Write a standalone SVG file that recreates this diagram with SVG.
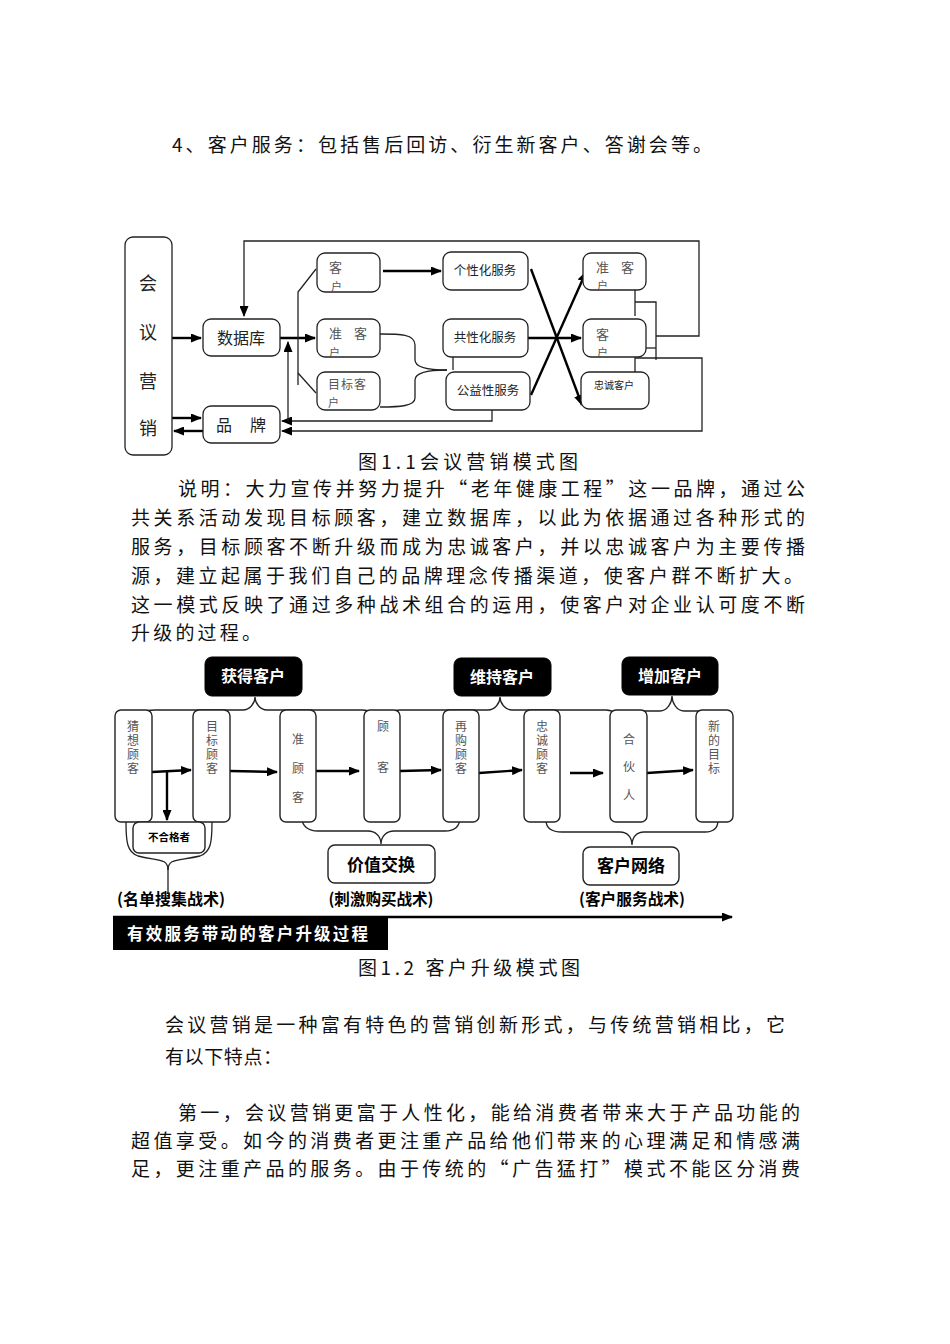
<svg xmlns="http://www.w3.org/2000/svg" width="950" height="1344" viewBox="0 0 950 1344">
<defs>
<marker id="ah" markerUnits="userSpaceOnUse" markerWidth="11" markerHeight="9" refX="10" refY="4.5" orient="auto">
<path d="M0,0 L11,4.5 L0,9 z" fill="#000"/>
</marker>
<style>
.body{font-family:"Noto Sans CJK SC","Noto Sans",sans-serif;font-size:19px;fill:#111;}
.b1{fill:#fff;stroke:#222;stroke-width:1.3;}
.ln{fill:none;stroke:#222;stroke-width:1.3;}
.th{fill:none;stroke:#000;stroke-width:2.4;}
.t1{font-family:"Noto Sans CJK SC","Noto Sans",sans-serif;fill:#222;}
.sm{font-family:"Noto Sans CJK SC","Noto Sans",sans-serif;fill:#555;}
.b2{fill:#fff;stroke:#222;stroke-width:1.4;}
.tv{font-family:"Noto Sans CJK SC","Noto Sans",sans-serif;font-size:12px;fill:#555;writing-mode:tb;}
.blk{fill:#000;stroke:#000;}
.wt{font-family:"Noto Sans CJK SC","Noto Sans",sans-serif;font-weight:bold;fill:#fff;text-anchor:middle;}
.wl{font-family:"Noto Sans CJK SC","Noto Sans",sans-serif;font-weight:bold;fill:#fff;font-size:16.5px;}
.bt{font-family:"Noto Sans CJK SC","Noto Sans",sans-serif;font-weight:bold;fill:#000;text-anchor:middle;}
</style>
</defs>
<rect width="950" height="1344" fill="#fff"/>

<text class="body" x="172" y="152" textLength="540" lengthAdjust="spacing">4、客户服务：包括售后回访、衍生新客户、答谢会等。</text>

<!-- Diagram 1 -->
<g id="d1-conn">
<line class="th" x1="172" y1="338" x2="201" y2="338" marker-end="url(#ah)"/>
<line class="th" x1="172" y1="418" x2="201" y2="418" marker-end="url(#ah)"/>
<line class="th" x1="203" y1="431" x2="174" y2="431" marker-end="url(#ah)"/>
<line class="th" x1="280" y1="338" x2="315" y2="338" marker-end="url(#ah)"/>
<polyline class="ln" points="316,269 298,292 298,385"/>
<line class="ln" x1="298" y1="373" x2="316" y2="393"/>
<line class="th" x1="383" y1="271" x2="441" y2="271" marker-end="url(#ah)"/>
<path class="ln" d="M380,334 C400,334 415,334 415,345 L415,360 C415,368 430,370 447,370"/>
<path class="ln" d="M380,407 C400,407 415,406 415,398 L415,380 C415,372 430,370 447,370"/>
<line class="ln" x1="453" y1="347" x2="453" y2="370"/>
<line class="th" x1="531" y1="269" x2="582" y2="405" marker-end="url(#ah)"/>
<line class="th" x1="531" y1="395" x2="586" y2="272" marker-end="url(#ah)"/>
<line class="th" x1="528" y1="338" x2="581" y2="338" marker-end="url(#ah)"/>
<line class="ln" x1="635" y1="290" x2="635" y2="316"/>
<polyline class="ln" points="635,302 656,302 656,360"/>
<line class="ln" x1="637" y1="348" x2="656" y2="348"/>
<polyline class="ln" points="656,336 699,336 699,241 244,241 244,316" marker-end="url(#ah)"/>
<polyline class="ln" points="635,383 635,358 702,358 702,431 282,431" marker-end="url(#ah)"/>
<polyline class="ln" points="492,410 492,421 282,421" marker-end="url(#ah)"/>
<line class="ln" x1="288" y1="421" x2="288" y2="342" marker-end="url(#ah)"/>
</g>

<g id="n-hyyx"><rect class="b1" x="125" y="237" width="47" height="218" rx="8"/>
<text class="t1" font-size="18" text-anchor="middle"><tspan x="148" y="290">会</tspan><tspan x="148" y="339">议</tspan><tspan x="148" y="388">营</tspan><tspan x="148" y="435">销</tspan></text></g>
<g id="n-sjk"><rect class="b1" x="203" y="319" width="77" height="37" rx="8"/>
<text class="t1" font-size="16" x="241" y="344" text-anchor="middle">数据库</text></g>
<g id="n-pp"><rect class="b1" x="203" y="406" width="77" height="37" rx="8"/>
<text class="t1" font-size="16"><tspan x="216" y="431">品</tspan><tspan x="250" y="431">牌</tspan></text></g>
<g id="n-kh1"><rect class="b1" x="317" y="253" width="63" height="39" rx="8"/>
<text class="sm" font-size="13" x="329" y="272">客</text><text class="sm" font-size="11" x="331" y="291">户</text></g>
<g id="n-zkh1"><rect class="b1" x="317" y="319" width="63" height="38" rx="8"/>
<text class="sm" font-size="13"><tspan x="329" y="338">准</tspan><tspan x="354" y="338">客</tspan></text><text class="sm" font-size="11" x="329" y="357">户</text></g>
<g id="n-mbkh"><rect class="b1" x="317" y="372" width="63" height="38" rx="8"/>
<text class="sm" font-size="12"><tspan x="328" y="389">目</tspan><tspan x="341" y="389">标</tspan><tspan x="354" y="389">客</tspan></text><text class="sm" font-size="11" x="328" y="407">户</text></g>
<g id="n-gxh"><rect class="b1" x="443" y="252" width="85" height="38" rx="8"/>
<text class="t1" font-size="12.5" x="485" y="275" text-anchor="middle">个性化服务</text></g>
<g id="n-gx"><rect class="b1" x="443" y="319" width="85" height="38" rx="8"/>
<text class="t1" font-size="12.5" x="485" y="342" text-anchor="middle">共性化服务</text></g>
<g id="n-gy"><rect class="b1" x="446" y="372" width="84" height="38" rx="8"/>
<text class="t1" font-size="12.5" x="488" y="395" text-anchor="middle">公益性服务</text></g>
<g id="n-zkh2"><rect class="b1" x="583" y="253" width="63" height="37" rx="8"/>
<text class="sm" font-size="13"><tspan x="596" y="272">准</tspan><tspan x="621" y="272">客</tspan></text><text class="sm" font-size="11" x="597" y="290">户</text></g>
<g id="n-kh2"><rect class="b1" x="583" y="319" width="63" height="38" rx="8"/>
<text class="sm" font-size="13" x="596" y="339">客</text><text class="sm" font-size="11" x="597" y="357">户</text></g>
<g id="n-zckh"><rect class="b1" x="581" y="372" width="68" height="37" rx="8"/>
<text class="t1" font-size="10" x="594" y="389">忠诚客户</text></g>

<text class="body" font-size="18" x="358" y="469" textLength="220" lengthAdjust="spacing">图1.1会议营销模式图</text>

<text class="body" x="178" y="496" textLength="627" lengthAdjust="spacing">说明：大力宣传并努力提升“老年健康工程”这一品牌，通过公</text>
<text class="body" x="131" y="525" textLength="674" lengthAdjust="spacing">共关系活动发现目标顾客，建立数据库，以此为依据通过各种形式的</text>
<text class="body" x="131" y="554" textLength="674" lengthAdjust="spacing">服务，目标顾客不断升级而成为忠诚客户，并以忠诚客户为主要传播</text>
<text class="body" x="131" y="583" textLength="672" lengthAdjust="spacing">源，建立起属于我们自己的品牌理念传播渠道，使客户群不断扩大。</text>
<text class="body" x="131" y="612" textLength="674" lengthAdjust="spacing">这一模式反映了通过多种战术组合的运用，使客户对企业认可度不断</text>
<text class="body" x="131" y="640" textLength="130" lengthAdjust="spacing">升级的过程。</text>

<!-- Diagram 2 -->
<g id="d2-conn">
<path class="ln" d="M140,720 C140,712 145,710 155,710 L243,710 C250,710 255,703 255,697 C255,703 260,710 267,710 L362,710 C370,710 375,714 375,722"/>
<path class="ln" d="M388,720 C388,713 393,710 400,710 L488,710 C495,710 500,703 500,697 C500,703 505,710 512,710 L606,710 C613,710 618,714 618,720"/>
<path class="ln" d="M628,722 C628,714 630,711 638,711 L660,711 C667,711 672,703 672,696 C672,703 677,711 684,711 L705,711 C712,711 715,714 715,718"/>
<path class="ln" d="M302,818 C302,826 308,831 318,831 L368,831 C375,831 381,836 381,844 C381,836 387,831 394,831 L445,831 C455,831 460,826 460,817"/>
<path class="ln" d="M546,820 C546,828 552,832 562,832 L620,832 C627,832 632,837 632,845 C632,837 637,832 644,832 L705,832 C714,832 718,828 718,820"/>
<path class="ln" d="M126,822 C126,842 127,852 138,856 C158,861 168,858 168,870 L168,893"/>
<path class="ln" d="M212,822 C212,842 211,852 200,856 C178,861 168,858 168,870"/>
<line class="th" x1="152" y1="772" x2="191" y2="770" marker-end="url(#ah)"/>
<line class="th" x1="167" y1="772" x2="167" y2="820" marker-end="url(#ah)"/>
<line class="th" x1="230" y1="771" x2="277" y2="772" marker-end="url(#ah)"/>
<line class="th" x1="316" y1="771" x2="359" y2="771" marker-end="url(#ah)"/>
<line class="th" x1="400" y1="771" x2="441" y2="770" marker-end="url(#ah)"/>
<line class="th" x1="479" y1="773" x2="522" y2="770" marker-end="url(#ah)"/>
<line class="th" x1="570" y1="773" x2="603" y2="773" marker-end="url(#ah)"/>
<line class="th" x1="647" y1="773" x2="693" y2="770" marker-end="url(#ah)"/>
<line class="th" x1="113" y1="917" x2="732" y2="917" marker-end="url(#ah)"/>
</g>

<g id="n-hdkh"><rect class="blk" x="205" y="657" width="97" height="39" rx="7"/>
<text class="wt" font-size="16" x="253" y="682">获得客户</text></g>
<g id="n-wckh"><rect class="blk" x="454" y="658" width="97" height="38" rx="7"/>
<text class="wt" font-size="16" x="502" y="683">维持客户</text></g>
<g id="n-zjkh"><rect class="blk" x="622" y="657" width="96" height="38" rx="7"/>
<text class="wt" font-size="16" x="670" y="682">增加客户</text></g>

<g id="n-cxgk"><rect class="b2" x="115" y="710" width="37" height="112" rx="6"/>
<text class="tv" x="133" y="720" letter-spacing="2">猜想顾客</text></g>
<g id="n-mbgk"><rect class="b2" x="193" y="710" width="37" height="112" rx="6"/>
<text class="tv" x="212" y="720" letter-spacing="2">目标顾客</text></g>
<g id="n-zgk"><rect class="b2" x="280" y="710" width="36" height="112" rx="6"/>
<text class="tv" x="298" y="733" letter-spacing="17">准顾客</text></g>
<g id="n-gk"><rect class="b2" x="364" y="710" width="36" height="112" rx="6"/>
<text class="tv" x="383" y="720" letter-spacing="29">顾客</text></g>
<g id="n-zggk"><rect class="b2" x="443" y="710" width="36" height="112" rx="6"/>
<text class="tv" x="461" y="720" letter-spacing="2">再购顾客</text></g>
<g id="n-zcgk"><rect class="b2" x="524" y="710" width="36" height="112" rx="6"/>
<text class="tv" x="542" y="720" letter-spacing="2">忠诚顾客</text></g>
<g id="n-hhr"><rect class="b2" x="610" y="710" width="37" height="112" rx="6"/>
<text class="tv" x="629" y="733" letter-spacing="16">合伙人</text></g>
<g id="n-xdmb"><rect class="b2" x="696" y="710" width="37" height="112" rx="6"/>
<text class="tv" x="714" y="720" letter-spacing="2">新的目标</text></g>
<g id="n-bhgz"><rect class="b2" x="133" y="822" width="72" height="31" rx="6"/>
<text class="bt" font-size="10.5" x="169" y="841">不合格者</text></g>
<g id="n-jzjh"><rect class="b2" x="328" y="845" width="107" height="38" rx="7"/>
<text class="bt" font-size="17" x="381" y="871">价值交换</text></g>
<g id="n-khwl"><rect class="b2" x="583" y="847" width="96" height="38" rx="7"/>
<text class="bt" font-size="17" x="631" y="872">客户网络</text></g>

<text class="bt" font-size="16" x="171" y="905" textLength="108" lengthAdjust="spacingAndGlyphs">(名单搜集战术)</text>
<text class="bt" font-size="16" x="381" y="905" textLength="105" lengthAdjust="spacingAndGlyphs">(刺激购买战术)</text>
<text class="bt" font-size="16" x="632" y="905" textLength="106" lengthAdjust="spacingAndGlyphs">(客户服务战术)</text>

<g id="n-yxfw"><rect x="113" y="918" width="275" height="32" fill="#000"/>
<text class="wl" x="127" y="940" textLength="241" lengthAdjust="spacing">有效服务带动的客户升级过程</text></g>

<text class="body" font-size="18" x="358" y="975" textLength="222" lengthAdjust="spacing">图1.2 客户升级模式图</text>

<text class="body" x="165" y="1032" textLength="620" lengthAdjust="spacing">会议营销是一种富有特色的营销创新形式，与传统营销相比，它</text>
<text class="body" x="165" y="1064" textLength="117" lengthAdjust="spacing">有以下特点：</text>
<text class="body" x="178" y="1120" textLength="622" lengthAdjust="spacing">第一，会议营销更富于人性化，能给消费者带来大于产品功能的</text>
<text class="body" x="131" y="1148" textLength="669" lengthAdjust="spacing">超值享受。如今的消费者更注重产品给他们带来的心理满足和情感满</text>
<text class="body" x="131" y="1176" textLength="669" lengthAdjust="spacing">足，更注重产品的服务。由于传统的“广告猛打”模式不能区分消费</text>
</svg>
